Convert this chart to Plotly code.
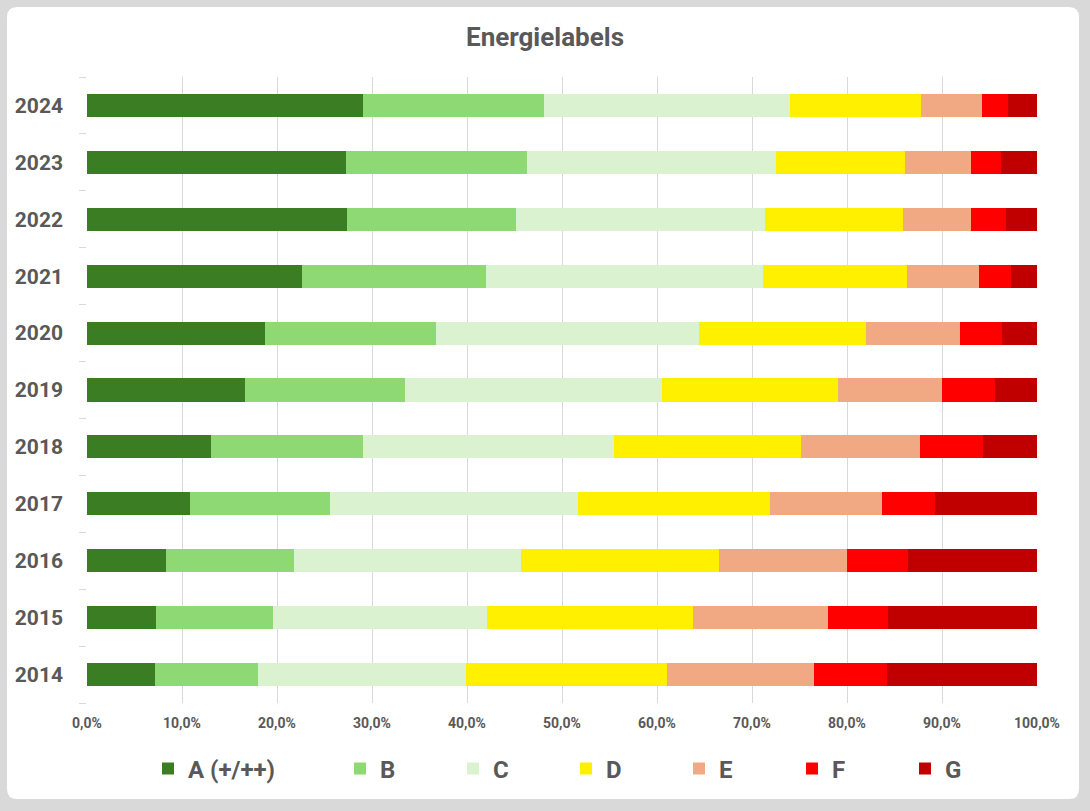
import plotly.graph_objects as go

years = ["2014", "2015", "2016", "2017", "2018", "2019", "2020", "2021", "2022", "2023", "2024"]
labels = ["A (+/++)", "B", "C", "D", "E", "F", "G"]

label_a = [7.17, 7.28, 8.27, 10.83, 13.06, 16.58, 18.77, 22.65, 27.41, 27.22, 29.10]
label_b = [10.83, 12.33, 13.57, 14.71, 15.99, 16.90, 17.93, 19.39, 17.74, 19.14, 19.05]
label_c = [21.85, 22.54, 23.86, 26.10, 26.47, 27.05, 27.74, 29.09, 26.20, 26.19, 25.90]
label_d = [21.15, 21.67, 20.82, 20.25, 19.66, 18.53, 17.61, 15.16, 14.51, 13.56, 13.78]
label_e = [15.57, 14.18, 13.45, 11.81, 12.54, 10.96, 9.84, 7.57, 7.23, 6.98, 6.37]
label_f = [7.60, 6.32, 6.40, 5.55, 6.61, 5.52, 4.42, 3.40, 3.62, 3.11, 2.70]
label_g = [15.83, 15.68, 13.63, 10.75, 5.67, 4.46, 3.69, 2.74, 3.29, 3.80, 3.10]

x_tickvals = [0, 10, 20, 30, 40, 50, 60, 70, 80, 90, 100]
x_ticktext = ["0,0%", "10,0%", "20,0%", "30,0%", "40,0%", "50,0%",
              "60,0%", "70,0%", "80,0%", "90,0%", "100,0%"]

series = [label_a, label_b, label_c, label_d, label_e, label_f, label_g]
colors = ["#3A7D22", "#8ED973", "#DAF2D0", "#FFF000", "#F1A983", "#FF0000", "#C00000"]
legend_widths = [147, 68, 68, 68, 68, 68, 68]

W, H = 1090, 811
ML, MR, MT, MB = 87, 53, 77, 108
PW, PH = W - ML - MR, H - MT - MB

FONT = "Roboto, Liberation Sans, Arial, sans-serif"
GRAY = "#595959"

fig = go.Figure()
for name, vals, col, lw in zip(labels, series, colors, legend_widths):
    fig.add_trace(go.Bar(
        y=years, x=vals, name=name, orientation="h",
        marker=dict(color=col, line=dict(width=0)),
        legendwidth=lw,
    ))

def fx(px):
    return (px - ML) / PW

def fy(py):
    return (H - MB - py) / PH

# white rounded card on a gray frame
x0, x1, y0, y1 = fx(7), fx(1079), fy(799), fy(7)
r = 10
rx, ry = r / PW, r / PH
card = (f"M {x0+rx},{y1} L {x1-rx},{y1} Q {x1},{y1} {x1},{y1-ry} "
        f"L {x1},{y0+ry} Q {x1},{y0} {x1-rx},{y0} "
        f"L {x0+rx},{y0} Q {x0},{y0} {x0},{y0+ry} "
        f"L {x0},{y1-ry} Q {x0},{y1} {x0+rx},{y1} Z")

fig.update_layout(
    width=W, height=H,
    margin=dict(l=ML, r=MR, t=MT, b=MB, pad=0, autoexpand=False),
    paper_bgcolor="#D9D9D9",
    plot_bgcolor="rgba(0,0,0,0)",
    barmode="stack",
    bargap=0.595,
    shapes=[dict(type="path", path=card, xref="paper", yref="paper",
                 fillcolor="white", line=dict(width=0), layer="below")],
    title=dict(text="Energielabels", x=0.5, xref="container", xanchor="center",
               y=1 - 37 / H, yref="container", yanchor="middle",
               font=dict(family=FONT, size=26, color=GRAY, weight="bold")),
    xaxis=dict(range=[0, 100], tickvals=x_tickvals, ticktext=x_ticktext,
               showgrid=True, gridcolor="#D9D9D9", gridwidth=1, zeroline=False,
               showline=False, ticks="", ticklabelstandoff=10,
               tickfont=dict(family=FONT, size=14, color=GRAY, weight="bold")),
    yaxis=dict(type="category", categoryorder="array", categoryarray=years,
               showgrid=False, zeroline=False, showline=False,
               ticks="outside", ticklen=7, tickcolor="#D9D9D9", tickwidth=1,
               tickson="boundaries", ticklabelstandoff=23,
               tickfont=dict(family=FONT, size=21, color=GRAY, weight="bold")),
    legend=dict(orientation="h", xref="paper", x=fx(148), xanchor="left",
                yref="paper", y=fy(769), yanchor="middle", bgcolor="rgba(0,0,0,0)",
                font=dict(family=FONT, size=24, color=GRAY, weight="bold"),
                traceorder="normal", itemsizing="constant"),
    showlegend=True,
)

fig.write_html("out.html", config={"displayModeBar": False},
               post_script="document.body.style.margin='0';")
